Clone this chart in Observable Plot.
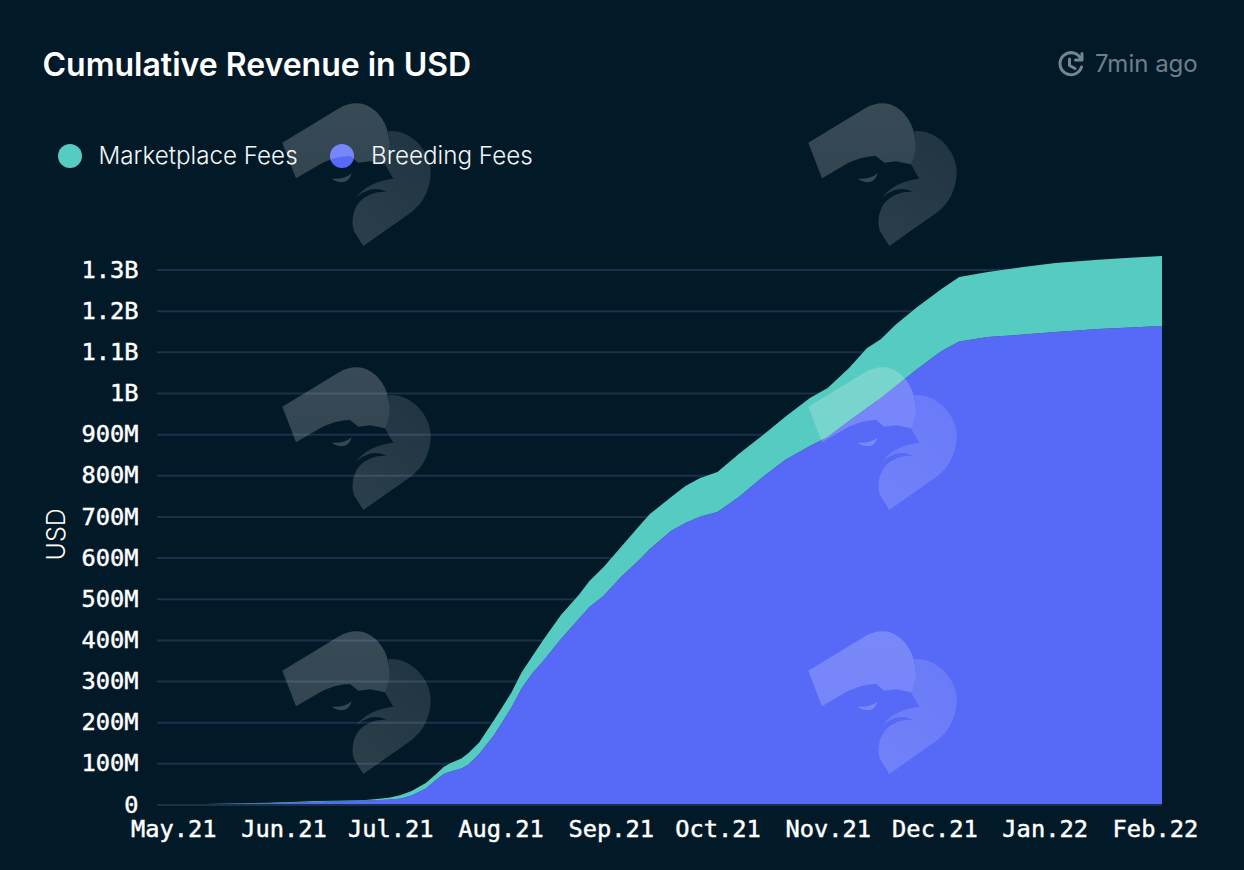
<!DOCTYPE html>
<html>
<head>
<meta charset="utf-8">
<script src="https://cdn.jsdelivr.net/npm/d3@7"></script>
<script src="https://cdn.jsdelivr.net/npm/@observablehq/plot@0.6"></script>
<style>
  html, body { margin: 0; padding: 0; background: #021a28; }
  #page { position: relative; width: 1244px; height: 870px; overflow: hidden; background: #021a28; font-family: Inter, sans-serif; color: #fff; }
  #head { position: relative; height: 230px; }
  #title { position: absolute; left: 42.5px; top: 47px; font-size: 32px; font-weight: 600; line-height: 36px; white-space: nowrap; }
  #ago { position: absolute; left: 1095px; top: 49px; font-size: 24px; line-height: 30px; color: #6d7f8b; white-space: nowrap; }
  #clock { position: absolute; left: 1056px; top: 50px; }
  .dot { position: absolute; width: 24px; height: 24px; border-radius: 50%; top: 144px; }
  .lab { position: absolute; top: 141px; font-size: 24.2px; line-height: 30px; font-weight: 300; color: #f2f5f7; white-space: nowrap; }
  #chart svg { display: block; background: transparent; }
  #chart g[aria-label="y-axis label"] { translate: 0 5px; }
  #chart g[aria-label="y-axis label"] text { font-family: Inter, sans-serif; font-size: 25px; font-weight: 300; }
  #chart g[aria-label$="tick label"] text { stroke: #fff; stroke-width: 0.45px; }
  #marks { position: absolute; left: 0; top: 0; pointer-events: none; }
</style>
</head>
<body>
<div id="page">
  <div id="head">
    <div id="title">Cumulative Revenue in USD</div>
    <svg id="clock" width="30" height="30" viewBox="0 0 30 30" fill="none" stroke="#74858f" stroke-width="3" stroke-linecap="round" stroke-linejoin="round">
      <path d="M25.2 9.5A11 11 0 1 0 25.5 17"/>
      <path d="M26 3.5V10H19.5"/>
      <path d="M13.5 9v6.5l5.5 3"/>
    </svg>
    <div id="ago">7min ago</div>
    <div class="dot" style="left:58px;background:#56cbc1"></div>
    <div class="lab" style="left:98.5px">Marketplace Fees</div>
    <div class="dot" style="left:330px;background:#5669f7"></div>
    <div class="lab" style="left:371px">Breeding Fees</div>
  </div>
  <div id="chart"></div>
  <svg id="marks" width="1244" height="870">
    <defs>
      <linearGradient id="g1" x1="0" y1="0" x2="0" y2="1">
        <stop offset="0" stop-color="#fff" stop-opacity="0.21"/>
        <stop offset="1" stop-color="#fff" stop-opacity="0.19"/>
      </linearGradient>
      <linearGradient id="g2" x1="0.8" y1="0" x2="0.2" y2="1">
        <stop offset="0" stop-color="#fff" stop-opacity="0.12"/>
        <stop offset="1" stop-color="#fff" stop-opacity="0.16"/>
      </linearGradient>
      <g id="wm">
        <path fill="url(#g1)" d="M37 140L78 247L150 205C180 188 215 180 240 180L265 200L300 196L345 205C358 175 362 150 355 115C345 60 300 22 262 22C240 22 222 28 205 38Z"/>
        <path fill="url(#g2)" d="M355 105C420 100 480 160 482 225C482 280 460 320 425 348L280 450L252 405C243 380 248 345 265 322C285 298 320 285 350 288C320 270 285 282 258 305C285 270 320 255 370 248L345 205C358 175 362 150 355 105Z"/>
        <path fill="#fff" fill-opacity="0.2" d="M185 248C205 262 235 268 245 232C225 248 205 250 185 248Z"/>
      </g>
    </defs>
    <use href="#wm" transform="translate(270 96) scale(0.3333)"/>
    <use href="#wm" transform="translate(270 360) scale(0.3333)"/>
    <use href="#wm" transform="translate(270 624) scale(0.3333)"/>
    <use href="#wm" transform="translate(796 96) scale(0.3333)"/>
    <use href="#wm" transform="translate(796 360) scale(0.3333)"/>
    <use href="#wm" transform="translate(796 624) scale(0.3333)"/>
  </svg>
</div>
<script>
const dates = ["2021-05-02","2021-05-14","2021-05-28","2021-06-11","2021-06-20","2021-06-24","2021-06-28","2021-07-01","2021-07-04","2021-07-07","2021-07-11","2021-07-14","2021-07-16","2021-07-18","2021-07-21","2021-07-23","2021-07-26","2021-07-30","2021-08-01","2021-08-04","2021-08-07","2021-08-10","2021-08-13","2021-08-18","2021-08-23","2021-08-26","2021-08-30","2021-09-04","2021-09-09","2021-09-12","2021-09-18","2021-09-22","2021-09-26","2021-10-01","2021-10-07","2021-10-14","2021-10-20","2021-10-27","2021-11-01","2021-11-07","2021-11-12","2021-11-16","2021-11-20","2021-11-26","2021-12-03","2021-12-08","2021-12-16","2021-12-26","2022-01-04","2022-01-16","2022-01-25","2022-02-03"];
const breedingFees = [0.2,1.2,3.2,6.6,8.5,9.5,10.9,12.2,14.6,22,39,61,74,80,87.5,97,122.7,166.5,193,234.5,283,319.6,349,402,451,480,507,554,594,621,665,684,699,711,747,798,837,871,893,932,963.5,988,1016,1057,1102,1125,1136,1142,1148,1155.5,1159,1163];
const marketplaceFees = [0,0.5,0.9,1.9,1.2,1.4,3,4.8,8.4,11,13,14,17,21,24.5,28,28,36.5,36.5,36.5,39,41,51,58.5,58,63,70,73,83,85,82,90,94,97,104.5,101,104.7,117,119,129,145.5,143,149,151,151,157,158,164,168,168.5,170,170];
const seriesNames = ["Breeding Fees","Marketplace Fees"];
const seriesColors = ["#5669f7","#56cbc1"];
const yTicks = [0,100,200,300,400,500,600,700,800,900,1000,1100,1200,1300];
const xTicks = ["2021-05-01","2021-06-01","2021-07-01","2021-08-01","2021-09-01","2021-10-01","2021-11-01","2021-12-01","2022-01-01","2022-02-01"].map(d => new Date(d));

const rows = [
  ...dates.map((d, i) => ({date: new Date(d), series: seriesNames[0], value: breedingFees[i]})),
  ...dates.map((d, i) => ({date: new Date(d), series: seriesNames[1], value: marketplaceFees[i]}))
];
const fmtY = v => v === 0 ? "0" : v < 1000 ? v + "M" : (v / 1000) + "B";
const fmtX = d3.utcFormat("%b.%y");
const gridColor = "#1b3049";
const tickFont = {fontFamily: "'DejaVu Sans Mono', monospace", fontSize: 23.7};

const plot = Plot.plot({
  width: 1244,
  height: 640,
  marginLeft: 157,
  marginRight: 82,
  marginTop: 23.1,
  marginBottom: 65.5,
  style: {background: "transparent", color: "#fff", overflow: "visible"},
  x: {type: "utc", domain: [new Date("2021-04-26T10:00Z"), new Date("2022-02-03")]},
  y: {domain: [0, 1340]},
  color: {domain: seriesNames, range: seriesColors},
  marks: [
    Plot.ruleY(yTicks, {stroke: gridColor, strokeWidth: 2}),
    Plot.areaY(rows, {x: "date", y: "value", fill: "series", order: seriesNames}),
    Plot.ruleY([0], {stroke: gridColor, strokeWidth: 2}),
    Plot.axisY({ticks: yTicks, tickFormat: fmtY, tickSize: 0, tickPadding: 19, label: "USD", labelAnchor: "center", labelArrow: "none", labelOffset: 110, fill: "#fff", ...tickFont}),
    Plot.axisX({ticks: xTicks, tickFormat: fmtX, tickSize: 0, tickPadding: 15, label: null, fill: "#fff", ...tickFont})
  ]
});
document.getElementById("chart").appendChild(plot);
</script>
</body>
</html>
